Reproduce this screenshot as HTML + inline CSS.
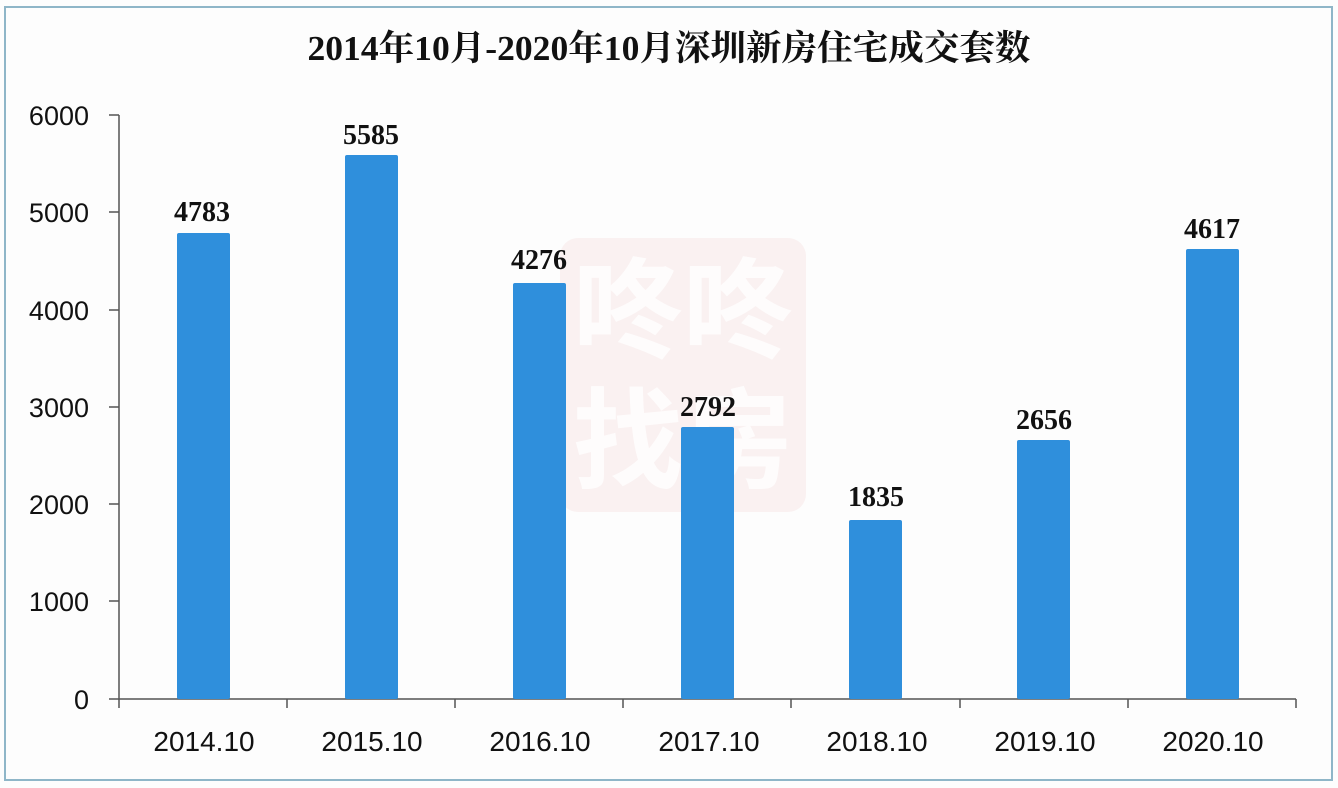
<!DOCTYPE html>
<html><head><meta charset="utf-8"><style>
body{margin:0;background:#fff;}
svg{display:block}
</style></head><body>
<svg width="1338" height="788" viewBox="0 0 1338 788" xmlns="http://www.w3.org/2000/svg">
<rect x="0" y="0" width="1338" height="788" fill="#fdfdfd"/>
<rect x="5" y="7" width="1327" height="773" fill="#fdfdfd" stroke="#8fb6c8" stroke-width="2"/>
<rect x="560" y="238" width="246" height="274" rx="18" fill="#f7e3e3" opacity="0.45"/>
<text x="683" y="350" font-family="Noto Sans CJK SC, sans-serif" font-size="110" font-weight="bold" fill="#fff" text-anchor="middle" opacity="0.8">咚咚</text>
<text x="683" y="480" font-family="Noto Sans CJK SC, sans-serif" font-size="110" font-weight="bold" fill="#fff" text-anchor="middle" opacity="0.8">找房</text>
<text x="669" y="60" font-family="Liberation Serif, Noto Serif CJK SC, serif" font-size="35" font-weight="bold" fill="#111" text-anchor="middle" textLength="723" lengthAdjust="spacingAndGlyphs">2014年10月-2020年10月深圳新房住宅成交套数</text>
<g stroke="#555" stroke-width="1.5" fill="none">
<path d="M119 115 V699 H1296"/>
<path d="M109 115H119M109 212H119M109 310H119M109 407H119M109 504H119M109 601H119M109 699H119"/>
<path d="M119 699V708M287 699V708M455 699V708M623 699V708M791 699V708M960 699V708M1128 699V708M1296 699V708"/>
</g>
<g font-family="Liberation Sans, sans-serif" font-size="27" fill="#111" text-anchor="end">
<text x="89" y="125">6000</text><text x="89" y="222">5000</text><text x="89" y="320">4000</text><text x="89" y="417">3000</text><text x="89" y="514">2000</text><text x="89" y="611">1000</text><text x="89" y="709">0</text>
</g>
<g font-family="Liberation Sans, sans-serif" font-size="28" fill="#111" text-anchor="middle">
<text x="204" y="751">2014.10</text><text x="372" y="751">2015.10</text><text x="540" y="751">2016.10</text><text x="709" y="751">2017.10</text><text x="877" y="751">2018.10</text><text x="1045" y="751">2019.10</text><text x="1213" y="751">2020.10</text>
</g>
<g fill="#2f8fdc">
<rect x="177" y="233" width="53" height="466" rx="2"/>
<rect x="345" y="155" width="53" height="544" rx="2"/>
<rect x="513" y="283" width="53" height="416" rx="2"/>
<rect x="681" y="427" width="53" height="272" rx="2"/>
<rect x="849" y="520" width="53" height="179" rx="2"/>
<rect x="1017" y="440" width="53" height="259" rx="2"/>
<rect x="1186" y="249" width="53" height="450" rx="2"/>
</g>
<g font-family="Liberation Serif, serif" font-size="28" font-weight="bold" fill="#111" text-anchor="middle">
<text x="202" y="221">4783</text><text x="371" y="144">5585</text><text x="539" y="269">4276</text><text x="708" y="416">2792</text><text x="876" y="506">1835</text><text x="1044" y="429">2656</text><text x="1212" y="238">4617</text>
</g>
</svg>
</body></html>
